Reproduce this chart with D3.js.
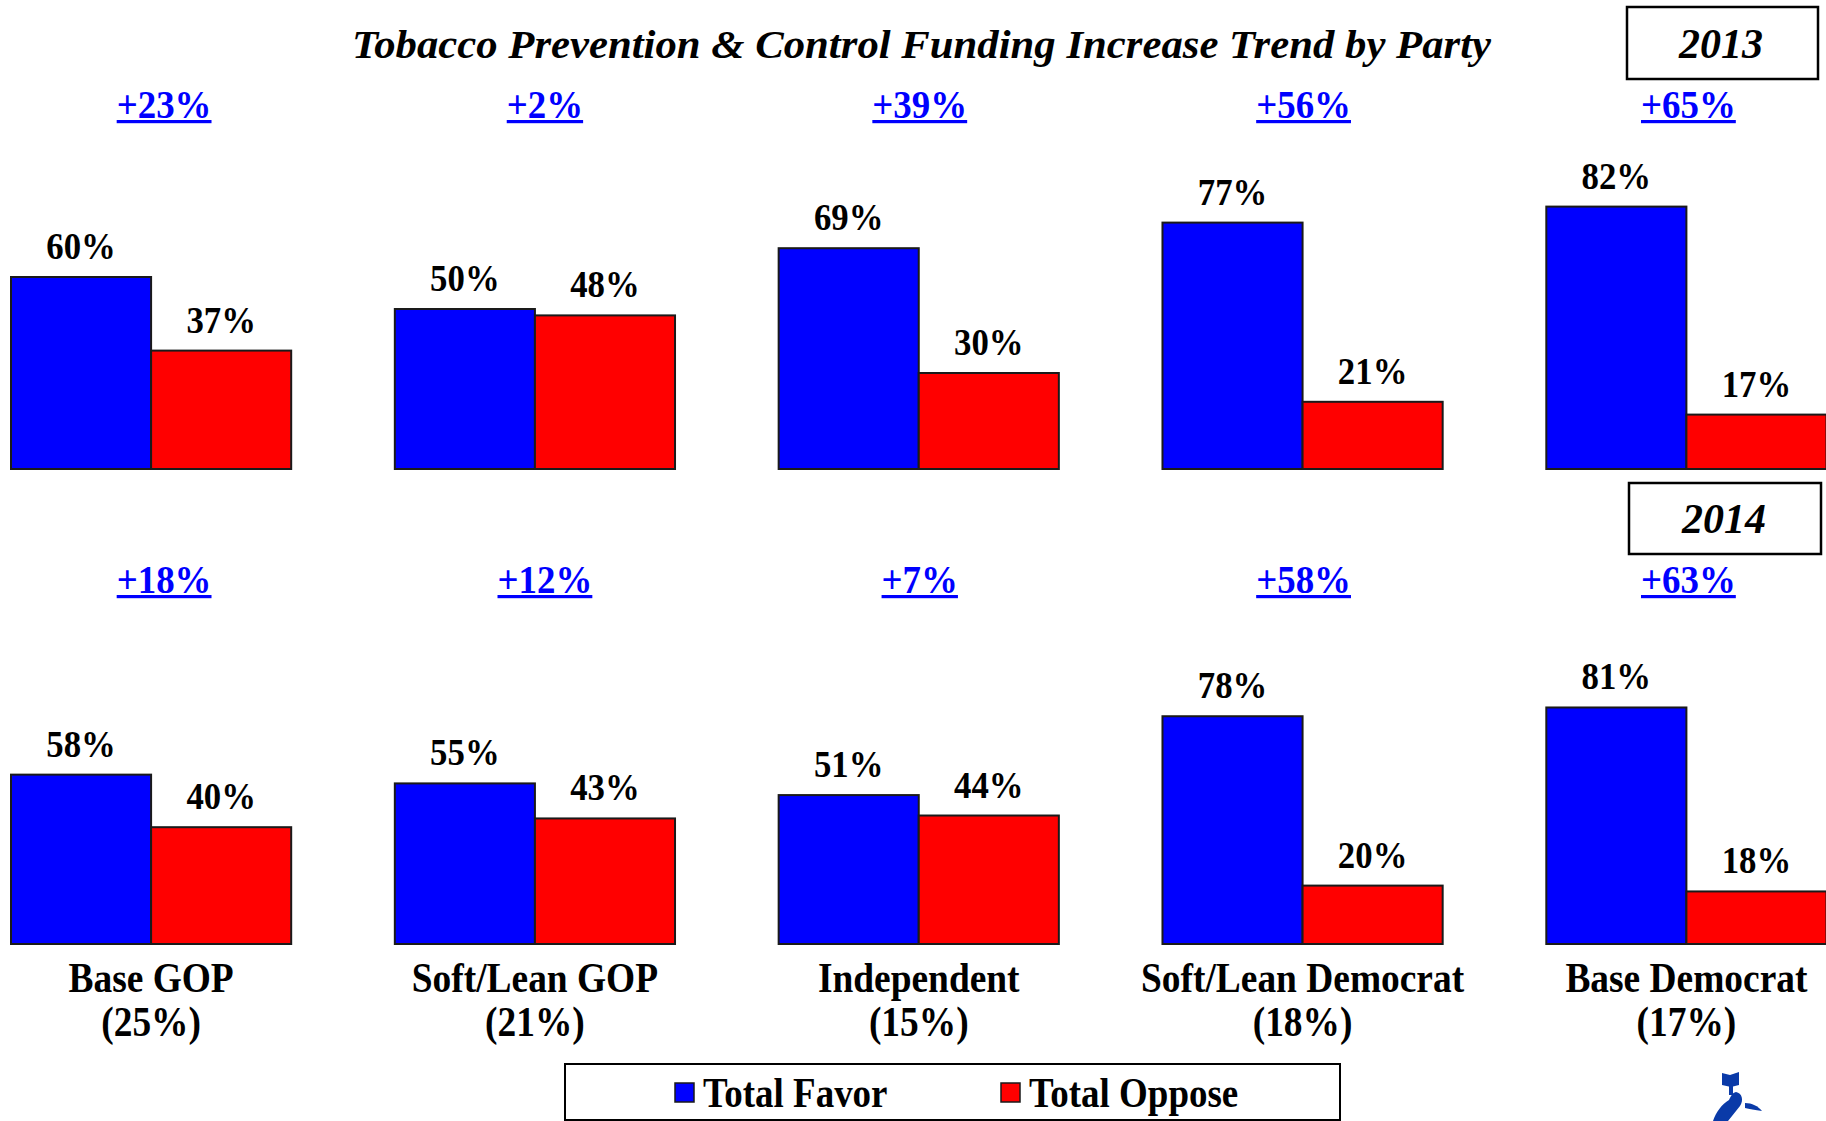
<!DOCTYPE html>
<html>
<head>
<meta charset="utf-8">
<script src="https://cdn.jsdelivr.net/npm/d3@7"></script>
<style>
  html, body { margin: 0; padding: 0; background: #fff; }
  svg { display: block; }
  text { font-family: "Liberation Serif", "Times New Roman", serif; font-weight: bold; }
</style>
</head>
<body>
<svg id="chart" width="1826" height="1121"></svg>
<script>
// ---------- data ----------
const categories = ["Base GOP", "Soft/Lean GOP", "Independent", "Soft/Lean Democrat", "Base Democrat"];
const categoryShares = ["(25%)", "(21%)", "(15%)", "(18%)", "(17%)"];
const seriesNames = ["Total Favor", "Total Oppose"];
const years = ["2013", "2014"];
const favor2013 = [60, 50, 69, 77, 82];
const oppose2013 = [37, 48, 30, 21, 17];
const favor2014 = [58, 55, 51, 78, 81];
const oppose2014 = [40, 43, 44, 20, 18];
const netChange2013 = ["+23%", "+2%", "+39%", "+56%", "+65%"];
const netChange2014 = ["+18%", "+12%", "+7%", "+58%", "+63%"];
const chartTitle = "Tobacco Prevention & Control Funding Increase Trend by Party";

// ---------- layout ----------
const W = 1826, H = 1121;
const BLUE = "#0000FF", RED = "#FF0000";
const svg = d3.select("#chart");

const x0 = d3.scaleBand().domain(categories).range([11, 1826.5]).paddingInner(0.270).paddingOuter(0);
const x1 = d3.scaleBand().domain(seriesNames).range([0, x0.bandwidth()]).padding(0);
const color = d3.scaleOrdinal().domain(seriesNames).range([BLUE, RED]);

const panels = [
  { year: years[0], favor: favor2013, oppose: oppose2013, net: netChange2013,
    y: d3.scaleLinear().domain([0, 100]).range([469, 469 - 320]),
    netBaseline: 118, box: { x: 1627, y: 7, w: 191, h: 72, tx: 1721, ty: 58 } },
  { year: years[1], favor: favor2014, oppose: oppose2014, net: netChange2014,
    y: d3.scaleLinear().domain([0, 100]).range([944, 944 - 292]),
    netBaseline: 593, box: { x: 1629, y: 483, w: 192, h: 71, tx: 1724, ty: 533 } }
];
const netNudge = [13, 10, 1, 1, 2];

function stext(parent, x, y, txt, size, sx, anchor, fill, italic) {
  const g = parent.append("g").attr("transform", `translate(${x},${y}) scale(${sx},1)`);
  const t = g.append("text")
    .attr("x", 0).attr("y", 0)
    .attr("text-anchor", anchor || "middle")
    .attr("font-size", size)
    .attr("fill", fill || "#000")
    .style("font-style", italic ? "italic" : "normal")
    .text(txt);
  return { g, t, width: t.node().getComputedTextLength() * sx };
}

// title
svg.append("text")
  .attr("x", 352).attr("y", 58)
  .attr("font-size", 41)
  .style("font-style", "italic")
  .attr("textLength", 1139)
  .attr("lengthAdjust", "spacingAndGlyphs")
  .text(chartTitle);

panels.forEach(p => {
  const rows = categories.map((c, i) => ({ cat: c, i, vals: [
    { s: seriesNames[0], v: p.favor[i] },
    { s: seriesNames[1], v: p.oppose[i] } ] }));
  const gp = svg.append("g");
  const groups = gp.selectAll("g.grp").data(rows).join("g")
    .attr("class", "grp")
    .attr("transform", d => `translate(${x0(d.cat)},0)`);

  groups.selectAll("rect").data(d => d.vals).join("rect")
    .attr("x", d => x1(d.s))
    .attr("y", d => p.y(d.v))
    .attr("width", x1.bandwidth())
    .attr("height", d => p.y(0) - p.y(d.v))
    .attr("fill", d => color(d.s))
    .attr("stroke", "#1a1a1a")
    .attr("stroke-width", 2);

  groups.each(function(d) {
    const g = d3.select(this);
    d.vals.forEach(v => {
      stext(g, x1(v.s) + x1.bandwidth() / 2, p.y(v.v) - 18, v.v + "%", 37, 0.94, "middle");
    });
    // net change label, underlined
    const cx = x0.bandwidth() / 2 + netNudge[d.i];
    const lab = stext(g, cx, p.netBaseline, p.net[d.i], 41, 0.9, "middle", BLUE);
    g.append("rect")
      .attr("x", cx - lab.width / 2)
      .attr("y", p.netBaseline + 2)
      .attr("width", lab.width)
      .attr("height", 3.2)
      .attr("fill", BLUE);
  });

  // year box
  svg.append("rect")
    .attr("x", p.box.x).attr("y", p.box.y)
    .attr("width", p.box.w).attr("height", p.box.h)
    .attr("fill", "#fff").attr("stroke", "#000").attr("stroke-width", 2.5);
  stext(svg, p.box.tx, p.box.ty, p.year, 42, 1, "middle", "#000", true);
});

// category labels
categories.forEach((c, i) => {
  const cx = x0(c) + x0.bandwidth() / 2;
  stext(svg, cx, 992, c, 43, 0.87, "middle");
  stext(svg, cx, 1036, categoryShares[i], 43, 0.87, "middle");
});

// legend
svg.append("rect")
  .attr("x", 565).attr("y", 1064).attr("width", 775).attr("height", 56)
  .attr("fill", "#fff").attr("stroke", "#000").attr("stroke-width", 2);
const legendX = [675, 1001];
seriesNames.forEach((s, i) => {
  svg.append("rect")
    .attr("x", legendX[i]).attr("y", 1083).attr("width", 19).attr("height", 19)
    .attr("fill", color(s)).attr("stroke", "#1a1a1a").attr("stroke-width", 1.5);
  stext(svg, legendX[i] + 28, 1107, s, 43, 0.86, "start");
});

// partial logo, bottom-right corner (decorative shapes only)
const logo = svg.append("g").attr("fill", "#0a3aa8");
logo.append("path").attr("d", "M1722,1073 L1730,1075 L1739,1072 L1739,1085 L1731,1087 L1722,1085 Z");
logo.append("rect").attr("x", 1729).attr("y", 1085).attr("width", 4).attr("height", 10);
logo.append("path").attr("d", "M1736,1092 C1742,1093 1744,1100 1740,1106 L1728,1121 L1713,1121 C1716,1112 1722,1104 1729,1100 C1731,1096 1732,1093 1736,1092 Z");
logo.append("path").attr("d", "M1745,1103 C1752,1103 1758,1106 1762,1111 C1755,1110 1749,1109 1745,1108 Z");
</script>
</body>
</html>
